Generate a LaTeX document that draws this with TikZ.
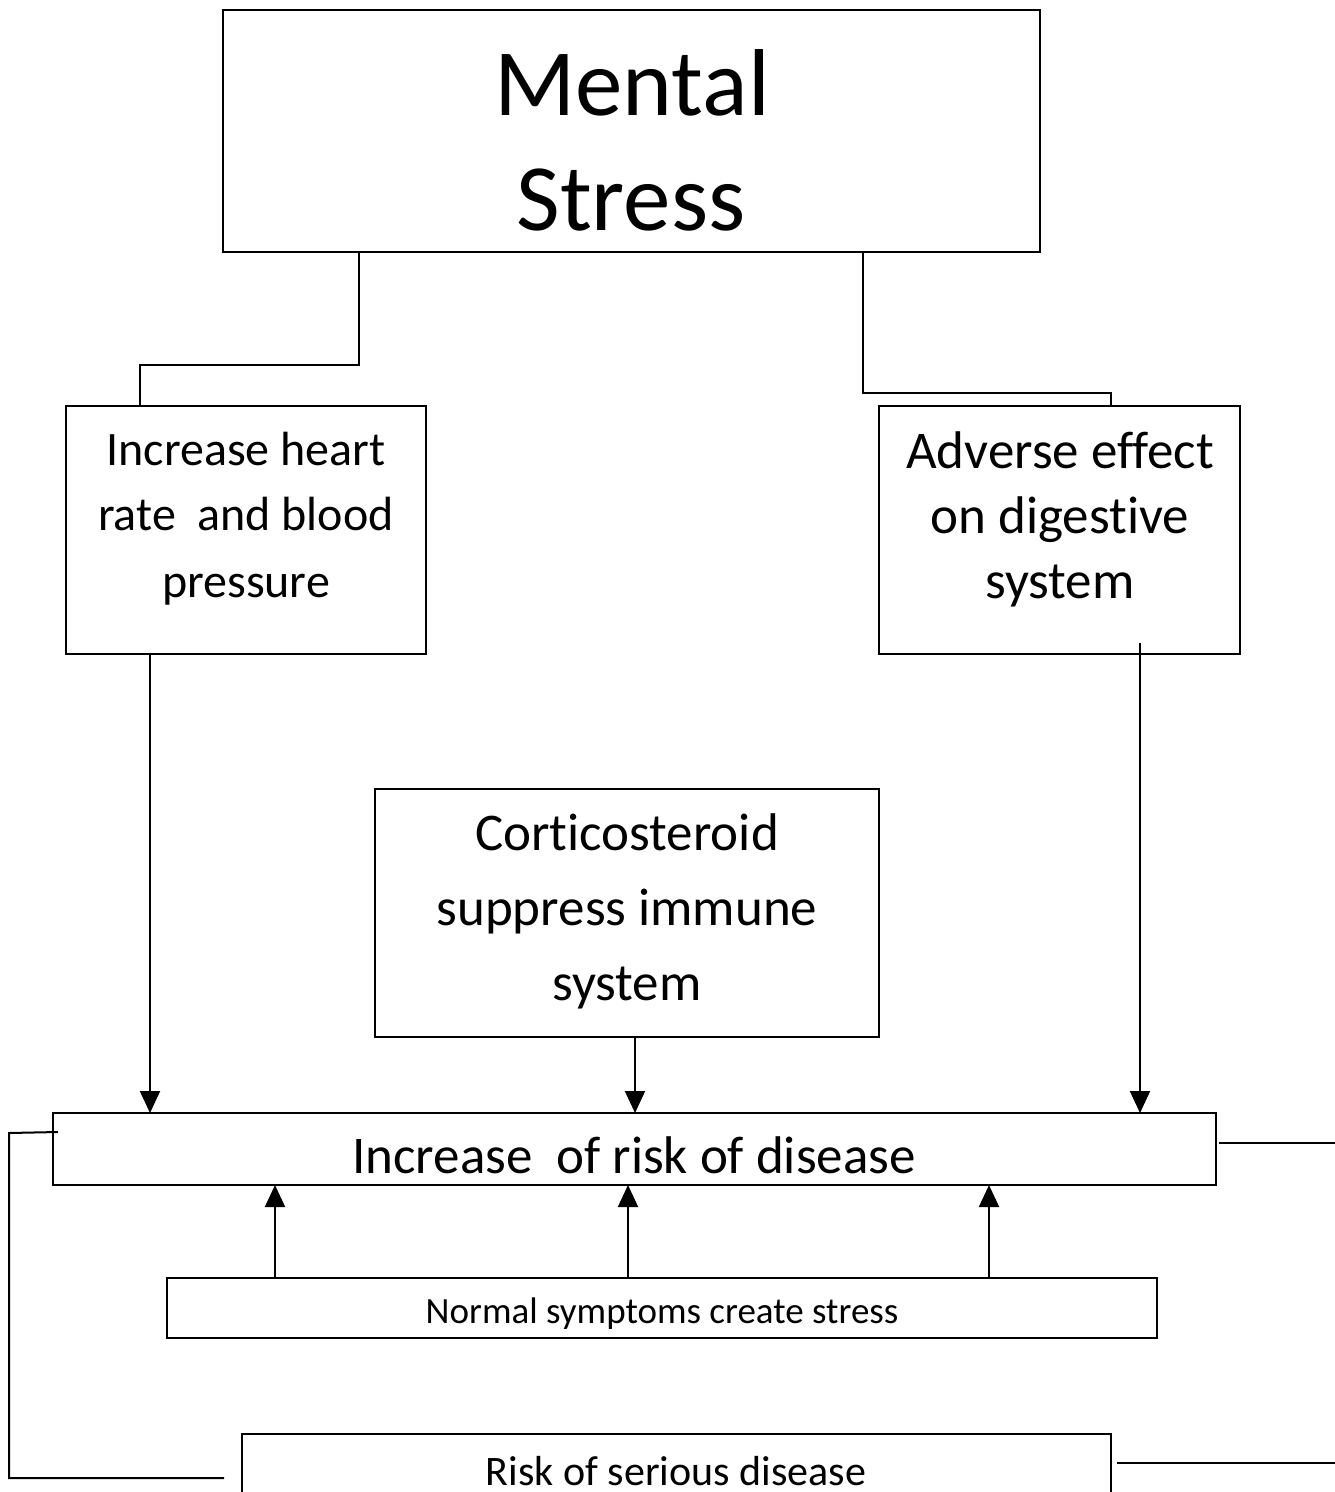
\documentclass[tikz,border=0pt]{standalone}
\usepackage{fontspec}
\setmainfont{Carlito}[Ligatures=CommonOff]
\usetikzlibrary{arrows.meta,calc}
\begin{document}
\begin{tikzpicture}[x=1pt,y=-1pt,
  box/.style={draw,line width=2pt,inner sep=0pt,outer sep=0pt,rectangle},
  txt/.style={anchor=base,inner sep=0pt},
  conn/.style={line width=2pt},
  arr/.style={line width=2pt,arrows={-Triangle[length=22pt,width=20pt]}}]
\useasboundingbox (0,0) rectangle (1335,1492);
\clip (0,0) rectangle (1335,1492);
\fill[white] (0,0) rectangle (1335,1492);
% boxes
\node[box,minimum width=817,minimum height=242] (M) at (631.5,131) {};
\node[box,minimum width=360,minimum height=248] (A) at (246,530) {};
\node[box,minimum width=361,minimum height=248] (B) at (1059.5,530) {};
\node[box,minimum width=504,minimum height=248] (C) at (627,913) {};
\node[box,minimum width=1163,minimum height=72] (D) at (634.5,1149) {};
\node[box,minimum width=990,minimum height=60] (E) at (662,1308) {};
\node[box,minimum width=869,minimum height=100] (F) at (676.5,1484) {};
% texts
\node[txt,font=\fontsize{95}{115}\selectfont] (m1) at (632,115) {Mental};
\node[txt,font=\fontsize{95}{115}\selectfont] (m2) at (631,230) {Stress};
\node[txt,font=\fontsize{48}{66}\selectfont] (a1) at (246,465) {Increase heart};
\node[txt,font=\fontsize{48}{66}\selectfont] (a2) at (246,530) {rate\ \ and blood};
\node[txt,font=\fontsize{48}{66}\selectfont] (a3) at (246,597) {pressure};
\node[txt,font=\fontsize{53}{66}\selectfont] (b1) at (1060,468) {Adverse effect};
\node[txt,font=\fontsize{53}{66}\selectfont] (b2) at (1060,533) {on digestive};
\node[txt,font=\fontsize{53}{66}\selectfont] (b3) at (1060,598) {system};
\node[txt,font=\fontsize{53}{75}\selectfont] (c1) at (627,850) {Corticosteroid};
\node[txt,font=\fontsize{53}{75}\selectfont] (c2) at (627,925) {suppress immune};
\node[txt,font=\fontsize{53}{75}\selectfont] (c3) at (627,1000) {system};
\node[txt,font=\fontsize{53}{60}\selectfont] (d1) at (634,1173) {Increase\ \ of risk of disease};
\node[txt,font=\fontsize{37}{45}\selectfont] (e1) at (662,1323) {Normal symptoms create stress};
\node[txt,font=\fontsize{42}{50}\selectfont] (f1) at (676,1485) {Risk of serious disease};
% helper coordinates
\coordinate (k1) at (359,365);
\coordinate (k2) at (140,365);
\coordinate (k3) at (863,393);
\coordinate (k4) at (1111,393);
\coordinate (xa) at (150,0);
\coordinate (xc) at (635,0);
\coordinate (xb) at (1140,0);
\coordinate (u1) at (275,0);
\coordinate (u2) at (628,0);
\coordinate (u3) at (989,0);
\coordinate (l1) at (58,1132);
\coordinate (l2) at (9,1133);
\coordinate (l3) at (224,1478);
\coordinate (r0) at (1219,1143);
\coordinate (r1) at (1335,1143);
\coordinate (r2) at (1117,1463);
\coordinate (r3) at (1335,1463);
% connectors
\draw[conn] (M.south -| k1) -- (k1) -- (k2) -- (A.north -| k2);
\draw[conn] (M.south -| k3) -- (k3) -- (k4) -- (B.north -| k4);
\draw[arr] (A.south -| xa) -- (D.north -| xa);
\draw[arr] (C.south -| xc) -- (D.north -| xc);
\draw[arr] ($(B.south -| xb)+(0,-11)$) -- (D.north -| xb);
\draw[arr] (E.north -| u1) -- (D.south -| u1);
\draw[arr] (E.north -| u2) -- (D.south -| u2);
\draw[arr] (E.north -| u3) -- (D.south -| u3);
\draw[conn] (l1) -- (l2) -- (l2 |- l3) -- (l3);
\draw[conn] (r0) -- (r1);
\draw[conn] (r2) -- (r3);
\end{tikzpicture}
\end{document}
